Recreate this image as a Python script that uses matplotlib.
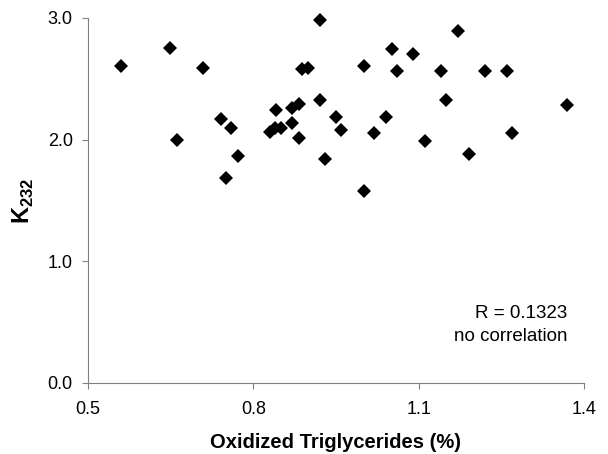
import matplotlib
matplotlib.use("Agg")
import matplotlib.pyplot as plt

# oxidized triglycerides (%) vs K232
oxidized_tg = [0.560, 0.649, 0.661, 0.709, 0.741, 0.750, 0.760, 0.772,
               0.830, 0.839, 0.841, 0.850, 0.870, 0.870, 0.882, 0.882,
               0.889, 0.900, 0.921, 0.921, 0.930, 0.950, 0.959, 1.001,
               1.001, 1.019, 1.040, 1.052, 1.061, 1.090, 1.112, 1.141,
               1.150, 1.171, 1.192, 1.221, 1.260, 1.269, 1.370]
k232 = [2.605, 2.755, 1.997, 2.591, 2.167, 1.687, 2.093, 1.868,
        2.065, 2.093, 2.243, 2.093, 2.134, 2.257, 2.290, 2.016,
        2.580, 2.591, 2.983, 2.325, 1.838, 2.189, 2.079, 2.608,
        1.580, 2.052, 2.189, 2.742, 2.566, 2.700, 1.985, 2.566,
        2.325, 2.889, 1.878, 2.566, 2.566, 2.052, 2.282]

x_ticks = [0.5, 0.8, 1.1, 1.4]
y_ticks = [0.0, 1.0, 2.0, 3.0]

plt.rcParams['font.family'] = ['Liberation Sans', 'DejaVu Sans']
plt.rcParams['mathtext.fontset'] = 'custom'
plt.rcParams['mathtext.rm'] = 'Liberation Sans:bold'
plt.rcParams['mathtext.bf'] = 'Liberation Sans:bold'

fig = plt.figure(figsize=(6.08, 4.54), dpi=100)
ax = fig.add_axes([0.1447, 0.1564, 0.8158, 0.804])

ax.plot(oxidized_tg, k232, linestyle='none', marker='D', markersize=7.5,
        color='black', markeredgewidth=0, clip_on=False, zorder=3)

ax.set_xlim(0.5, 1.4)
ax.set_ylim(0.0, 3.0)
ax.set_xticks(x_ticks)
ax.set_xticklabels([f'{v:.1f}' for v in x_ticks])
ax.set_yticks(y_ticks)
ax.set_yticklabels([f'{v:.1f}' for v in y_ticks])

ax.spines['top'].set_visible(False)
ax.spines['right'].set_visible(False)
ax.spines['left'].set_color('#808080')
ax.spines['bottom'].set_color('#808080')
ax.tick_params(direction='out', length=4, color='#808080', labelsize=13)
ax.tick_params(axis='x', pad=9)
ax.tick_params(axis='y', pad=7)

ax.set_xlabel('Oxidized Triglycerides (%)', fontsize=14.5, fontweight='bold',
              labelpad=11)
ax.set_ylabel(r'$\mathbf{K}_{\mathbf{232}}$', fontsize=17, labelpad=8)

ax.text(0.966, 0.159, 'R = 0.1323\nno correlation', transform=ax.transAxes,
        ha='right', va='center', fontsize=13.5, linespacing=1.45)

fig.savefig('out.png', dpi=100)
